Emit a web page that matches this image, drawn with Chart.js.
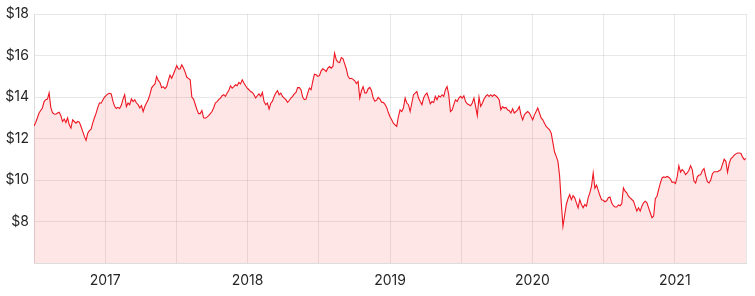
<!DOCTYPE html>
<html>
<head>
<meta charset="utf-8">
<script src="https://cdn.jsdelivr.net/npm/chart.js@4"></script>
<style>
  html, body { margin: 0; padding: 0; background: #fff; }
  #wrap { width: 755px; height: 296px; }
</style>
</head>
<body>
<div id="wrap"><canvas id="priceChart"></canvas></div>
<script>
const startYear = 2016.5;
const endYear = 2021.5;
const yearLabels = [2017, 2018, 2019, 2020, 2021];
const priceTicks = [8, 10, 12, 14, 16, 18];

const closePrices = [
  12.6, 12.77, 12.99, 13.23, 13.35, 13.47, 13.78, 13.87, 13.9, 14.2,
  13.5, 13.25, 13.18, 13.17, 13.23, 13.27, 13.1, 12.82, 12.94, 12.77,
  12.99, 12.66, 12.5, 12.9, 12.82, 12.74, 12.82, 12.79, 12.58, 12.34,
  12.1, 11.91, 12.25, 12.38, 12.45, 12.75, 13.0, 13.22, 13.5, 13.72,
  13.7, 13.85, 14.0, 14.08, 14.15, 14.18, 14.15, 13.8, 13.55, 13.45,
  13.5, 13.45, 13.6, 13.9, 14.11, 13.54, 13.71, 13.63, 13.91, 13.78,
  13.87, 13.71, 13.63, 13.47, 13.59, 13.3, 13.54, 13.71, 13.87, 14.11,
  14.43, 14.55, 14.62, 14.99, 14.8, 14.7, 14.45, 14.5, 14.4, 14.5,
  14.8, 15.05, 14.9, 15.1, 15.3, 15.51, 15.35, 15.35, 15.55, 15.4,
  15.2, 14.95, 14.9, 14.83, 14.0, 13.9, 13.65, 13.4, 13.2, 13.2,
  13.35, 13.0, 12.98, 13.03, 13.1, 13.2, 13.3, 13.48, 13.71, 13.78,
  13.87, 13.95, 14.06, 14.11, 14.03, 14.19, 14.31, 14.54, 14.43, 14.5,
  14.59, 14.54, 14.7, 14.63, 14.83, 14.67, 14.54, 14.43, 14.35, 14.26,
  14.22, 14.11, 13.95, 14.06, 14.15, 14.03, 14.22, 13.78, 13.63, 13.71,
  13.42, 13.7, 13.8, 14.03, 14.19, 14.31, 14.11, 14.19, 14.03, 13.95,
  13.87, 13.74, 13.83, 13.95, 14.03, 14.15, 14.22, 14.45, 14.45, 14.35,
  14.0, 13.87, 13.9, 14.19, 14.43, 14.35, 14.75, 15.1, 15.07, 14.99,
  15.03, 15.26, 15.36, 15.31, 15.23, 15.39, 15.47, 15.39, 15.47, 16.11,
  15.8, 15.68, 15.66, 15.9, 15.85, 15.6, 15.35, 15.0, 14.88, 14.9,
  14.85, 14.78, 14.65, 14.75, 13.95, 14.3, 14.5, 14.2, 14.2, 14.4,
  14.46, 14.3, 13.95, 13.8, 13.85, 13.98, 13.9, 13.75, 13.74, 13.65,
  13.5, 13.25, 13.05, 12.9, 12.74, 12.66, 12.58, 13.06, 13.38, 13.3,
  13.47, 13.95, 13.71, 13.63, 13.3, 13.71, 14.11, 14.19, 14.26, 13.95,
  13.78, 13.63, 13.95, 14.11, 14.19, 13.95, 13.67, 13.78, 13.74, 14.03,
  13.87, 14.06, 14.0, 14.11, 14.03, 14.35, 14.5, 14.1, 13.3, 13.38,
  13.63, 13.87, 13.78, 13.95, 14.03, 13.95, 14.06, 13.78, 13.67, 13.63,
  13.58, 13.71, 13.95, 13.54, 13.1, 14.0, 13.55, 13.7, 13.9, 14.03,
  14.11, 14.03, 14.11, 14.03, 14.11, 14.06, 13.98, 13.87, 13.38, 13.54,
  13.47, 13.5, 13.38, 13.34, 13.23, 13.43, 13.23, 13.3, 13.38, 13.54,
  13.14, 12.9, 13.14, 13.23, 13.3, 13.23, 13.06, 12.9, 13.14, 13.3,
  13.47, 13.23, 12.99, 12.9, 12.74, 12.58, 12.5, 12.42, 12.26, 11.8,
  11.35, 11.14, 10.9, 10.2, 8.9, 7.77, 8.3, 8.82, 9.1, 9.3,
  9.05, 9.25, 9.14, 8.9, 8.66, 9.06, 8.82, 8.66, 8.82, 8.74,
  9.14, 9.38, 9.7, 10.34, 9.6, 9.75, 9.5, 9.25, 9.05, 9.02,
  8.95, 9.0, 9.15, 9.18, 8.9, 8.76, 8.7, 8.7, 8.8, 8.76,
  8.85, 9.62, 9.46, 9.38, 9.22, 9.14, 9.06, 8.98, 8.74, 8.5,
  8.66, 8.5, 8.74, 8.9, 8.98, 8.9, 8.66, 8.42, 8.18, 8.26,
  9.1, 9.22, 9.55, 9.85, 10.1, 10.15, 10.12, 10.17, 10.13, 10.05,
  9.89, 9.9, 9.83, 10.15, 10.69, 10.38, 10.5, 10.42, 10.26, 10.34,
  10.47, 10.69, 10.5, 9.95, 9.85, 10.15, 10.24, 10.25, 10.45, 10.55,
  10.2, 9.92, 9.86, 10.0, 10.3, 10.4, 10.4, 10.4, 10.45, 10.5,
  10.75, 11.0, 10.9, 10.37, 10.8, 11.02, 11.1, 11.2, 11.26, 11.3,
  11.3, 11.28, 11.1, 10.98, 11.04
];

const fontFamily = 'Inter, "Open Sans", sans-serif';
const textColor = '#262626';
const gridColor = 'rgba(0,0,0,0.09)';

// evenly spread the samples across the date range
const step = (endYear - startYear) / (closePrices.length - 1);
const points = closePrices.map((v, i) => ({ x: startYear + i * step, y: v }));

const ctx = document.getElementById('priceChart').getContext('2d');
new Chart(ctx, {
    type: 'line',
    data: {
        datasets: [{
            data: points,
            borderColor: '#ee1622',
            backgroundColor: 'rgba(250, 60, 60, 0.13)',
            borderWidth: 1.1,
            pointRadius: 0,
            tension: 0,
            fill: 'start',
        }]
    },
    options: {
        responsive: true,
        maintainAspectRatio: false,
        animation: false,
        layout: { padding: { left: 0, right: 8, top: 14, bottom: 0 } },
        plugins: { legend: { display: false }, tooltip: { enabled: false } },
        scales: {
            x: {
                type: 'linear',
                min: startYear,
                max: endYear,
                grid: { color: gridColor, drawTicks: false },
                border: { color: '#dcdcdc' },
                afterFit: (scale) => { scale.height = 33; },
                ticks: {
                    stepSize: 0.5,
                    maxRotation: 0,
                    autoSkip: false,
                    padding: 9,
                    color: textColor,
                    font: { family: fontFamily, size: 14 },
                    callback: (v) => yearLabels.includes(v) ? String(v) : ''
                }
            },
            y: {
                min: 6,
                max: 18,
                grid: { color: gridColor, drawTicks: false },
                border: { color: '#dcdcdc' },
                afterFit: (scale) => { scale.width = 34; },
                ticks: {
                    stepSize: 2,
                    padding: 5,
                    color: textColor,
                    font: { family: fontFamily, size: 14 },
                    callback: (v) => priceTicks.includes(v) ? '$' + v : ''
                }
            }
        }
    }
});
</script>
</body>
</html>
